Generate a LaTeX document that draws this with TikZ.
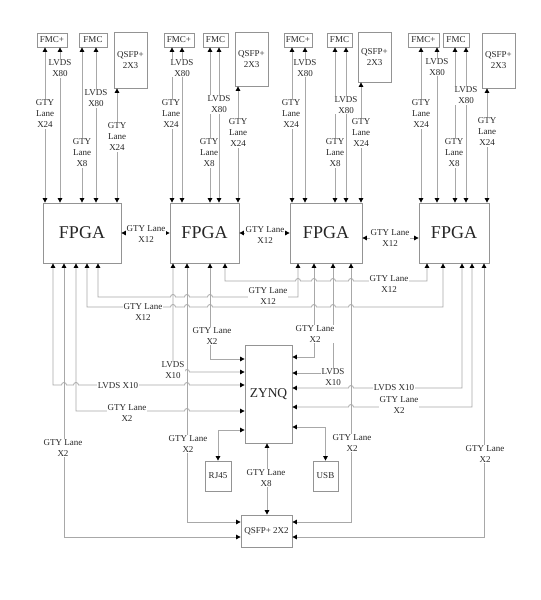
\documentclass[tikz,border=0pt]{standalone}
\usepackage{fontspec}
\setmainfont{Liberation Serif}
\usetikzlibrary{arrows.meta}
\definecolor{linec}{gray}{0.66}
\definecolor{boxc}{gray}{0.58}
\definecolor{txt}{gray}{0.15}
\newcommand\labfont{\fontsize{9}{11}\selectfont}
\tikzset{
  box/.style={draw=boxc, line width=0.8pt, inner sep=0pt, font=\labfont, text=txt, align=center},
  bigbox/.style={box, font=\fontsize{18}{20}\selectfont},
  zbox/.style={box, font=\fontsize{13.5}{15}\selectfont},
  lbl/.style={fill=white, inner sep=0.8pt, font=\labfont, text=txt, align=center},
  wire/.style={draw=linec, line width=0.8pt,
    {Triangle[length=4.5pt,width=4.5pt,color=black]}-{Triangle[length=4.5pt,width=4.5pt,color=black]}},
}
\begin{document}
\begin{tikzpicture}[x=1pt,y=1pt]
\fill[white] (0,0) rectangle (541,-600);
\useasboundingbox (0,0) rectangle (541,-600);

% ---------- top boxes ----------
\node[box, minimum width=30pt, minimum height=14pt] (fp1) at (52,-40) {FMC+};
\node[box, minimum width=28pt, minimum height=14pt] (fm1) at (93,-40) {FMC};
\node[box, minimum width=33pt, minimum height=56pt] (q1) at (130.5,-60) {QSFP+\\2X3};
\node[box, minimum width=30pt, minimum height=14pt] (fp2) at (179,-40) {FMC+};
\node[box, minimum width=25pt, minimum height=14pt] (fm2) at (215.5,-40) {FMC};
\node[box, minimum width=33pt, minimum height=54pt] (q2) at (251.5,-59) {QSFP+\\2X3};
\node[box, minimum width=28pt, minimum height=14pt] (fp3) at (298,-40) {FMC+};
\node[box, minimum width=25pt, minimum height=14pt] (fm3) at (339.5,-40) {FMC};
\node[box, minimum width=33pt, minimum height=50pt] (q3) at (374.5,-57) {QSFP+\\2X3};
\node[box, minimum width=31pt, minimum height=14pt] (fp4) at (423.5,-40) {FMC+};
\node[box, minimum width=26pt, minimum height=14pt] (fm4) at (456,-40) {FMC};
\node[box, minimum width=33pt, minimum height=55pt] (q4) at (498.5,-60.5) {QSFP+\\2X3};

% ---------- FPGAs ----------
\node[bigbox, minimum width=78pt, minimum height=60pt] (fpga1) at (82,-233) {FPGA};
\node[bigbox, minimum width=69pt, minimum height=60pt] (fpga2) at (204.5,-233) {FPGA};
\node[bigbox, minimum width=72pt, minimum height=60pt] (fpga3) at (326,-233) {FPGA};
\node[bigbox, minimum width=70pt, minimum height=60pt] (fpga4) at (454,-233) {FPGA};

% ---------- lower boxes ----------
\node[zbox, minimum width=47pt, minimum height=98pt] (zynq) at (268.5,-394) {ZYNQ};
\node[box, minimum width=26pt, minimum height=30pt] (rj45) at (218,-476) {RJ45};
\node[box, minimum width=25pt, minimum height=30pt] (usb) at (325.5,-476) {USB};
\node[box, minimum width=51pt, minimum height=32pt] (qsfp) at (266.5,-531) {QSFP+ 2X2};

% ---------- top vertical links ----------
\draw[wire] (fp1.south -| 45,0) -- (fpga1.north -| 45,0);
\draw[wire] (fp1.south -| 60,0) -- (fpga1.north -| 60,0);
\draw[wire] (fm1.south -| 82,0) -- (fpga1.north -| 82,0);
\draw[wire] (fm1.south -| 96,0) -- (fpga1.north -| 96,0);
\draw[wire] (q1.south -| 117,0) -- (fpga1.north -| 117,0);

\draw[wire] (fp2.south -| 172,0) -- (fpga2.north -| 172,0);
\draw[wire] (fp2.south -| 182,0) -- (fpga2.north -| 182,0);
\draw[wire] (fm2.south -| 210,0) -- (fpga2.north -| 210,0);
\draw[wire] (fm2.south -| 219,0) -- (fpga2.north -| 219,0);
\draw[wire] (q2.south -| 238,0) -- (fpga2.north -| 238,0);

\draw[wire] (fp3.south -| 292,0) -- (fpga3.north -| 292,0);
\draw[wire] (fp3.south -| 305,0) -- (fpga3.north -| 305,0);
\draw[wire] (fm3.south -| 335,0) -- (fpga3.north -| 335,0);
\draw[wire] (fm3.south -| 346,0) -- (fpga3.north -| 346,0);
\draw[wire] (q3.south -| 361,0) -- (fpga3.north -| 361,0);

\draw[wire] (fp4.south -| 421,0) -- (fpga4.north -| 421,0);
\draw[wire] (fp4.south -| 437,0) -- (fpga4.north -| 437,0);
\draw[wire] (fm4.south -| 455,0) -- (fpga4.north -| 455,0);
\draw[wire] (fm4.south -| 466,0) -- (fpga4.north -| 466,0);
\draw[wire] (q4.south -| 487,0) -- (fpga4.north -| 487,0);

% top labels
\node[lbl] (t1a) at (60,-68.5) {LVDS\\X80};
\node[lbl] (t1b) at (45,-114) {GTY\\Lane\\X24};
\node[lbl] (t1c) at (96,-98.5) {LVDS\\X80};
\node[lbl] (t1d) at (82,-153) {GTY\\Lane\\X8};
\node[lbl] (t1e) at (117,-137) {GTY\\Lane\\X24};

\node[lbl] (t2a) at (182,-68) {LVDS\\X80};
\node[lbl] (t2b) at (171,-114) {GTY\\Lane\\X24};
\node[lbl] (t2c) at (219,-104.5) {LVDS\\X80};
\node[lbl] (t2d) at (209,-153) {GTY\\Lane\\X8};
\node[lbl] (t2e) at (238,-133) {GTY\\Lane\\X24};

\node[lbl] (t3a) at (305,-68) {LVDS\\X80};
\node[lbl] (t3b) at (291,-114) {GTY\\Lane\\X24};
\node[lbl] (t3c) at (346,-105) {LVDS\\X80};
\node[lbl] (t3d) at (335,-153) {GTY\\Lane\\X8};
\node[lbl] (t3e) at (361,-133) {GTY\\Lane\\X24};

\node[lbl] (t4a) at (437,-67) {LVDS\\X80};
\node[lbl] (t4b) at (421,-114) {GTY\\Lane\\X24};
\node[lbl] (t4c) at (466,-95.5) {LVDS\\X80};
\node[lbl] (t4d) at (454,-153) {GTY\\Lane\\X8};
\node[lbl] (t4e) at (487,-132) {GTY\\Lane\\X24};

% ---------- FPGA to FPGA ----------
\draw[wire] (fpga1.east |- 0,-233) -- (fpga2.west |- 0,-233);
\draw[wire] (fpga2.east |- 0,-233) -- (fpga3.west |- 0,-233);
\draw[wire] (fpga3.east |- 0,-238) -- (fpga4.west |- 0,-238);
\node[lbl] (h12) at (146,-234) {GTY Lane\\X12};
\node[lbl] (h23) at (265,-235) {GTY Lane\\X12};
\node[lbl] (h34) at (390,-238) {GTY Lane\\X12};

% wire A: FPGA1 - FPGA3
\draw[wire] (fpga1.south -| 98,0) -- (98,-297)
  -- (170.5,-297) arc[start angle=180,end angle=0,radius=2.5pt]
  -- (184.5,-297) arc[start angle=180,end angle=0,radius=2.5pt]
  -- (207.5,-297) arc[start angle=180,end angle=0,radius=2.5pt]
  -- (298,-297) -- (fpga3.south -| 298,0);
% wire B: FPGA2 - FPGA4
\draw[wire] (fpga2.south -| 225,0) -- (225,-281)
  -- (295.5,-281) arc[start angle=180,end angle=0,radius=2.5pt]
  -- (311.5,-281) arc[start angle=180,end angle=0,radius=2.5pt]
  -- (330.5,-281) arc[start angle=180,end angle=0,radius=2.5pt]
  -- (348.5,-281) arc[start angle=180,end angle=0,radius=2.5pt]
  -- (427,-281) -- (fpga4.south -| 427,0);
% wire C: FPGA1 - FPGA4
\draw[wire] (fpga1.south -| 87,0) -- (87,-307)
  -- (170.5,-307) arc[start angle=180,end angle=0,radius=2.5pt]
  -- (184.5,-307) arc[start angle=180,end angle=0,radius=2.5pt]
  -- (207.5,-307) arc[start angle=180,end angle=0,radius=2.5pt]
  -- (311.5,-307) arc[start angle=180,end angle=0,radius=2.5pt]
  -- (330.5,-307) arc[start angle=180,end angle=0,radius=2.5pt]
  -- (348.5,-307) arc[start angle=180,end angle=0,radius=2.5pt]
  -- (443,-307) -- (fpga4.south -| 443,0);
\node[lbl] (wa) at (268,-296.5) {GTY Lane\\X12};
\node[lbl] (wb) at (389,-284) {GTY Lane\\X12};
\node[lbl] (wc) at (143,-312) {GTY Lane\\X12};

% ---------- to ZYNQ, left side ----------
\draw[wire] (fpga2.south -| 210,0) -- (210,-359) -- (zynq.west |- 0,-359);
\draw[wire] (fpga2.south -| 173,0) -- (173,-372)
  -- (184.5,-372) arc[start angle=180,end angle=0,radius=2.5pt]
  -- (zynq.west |- 0,-372);
\draw[wire] (fpga1.south -| 53,0) -- (53,-385)
  -- (61.5,-385) arc[start angle=180,end angle=0,radius=2.5pt]
  -- (73.5,-385) arc[start angle=180,end angle=0,radius=2.5pt]
  -- (184.5,-385) arc[start angle=180,end angle=0,radius=2.5pt]
  -- (zynq.west |- 0,-385);
\draw[wire] (fpga1.south -| 76,0) -- (76,-411)
  -- (184.5,-411) arc[start angle=180,end angle=0,radius=2.5pt]
  -- (zynq.west |- 0,-411);
\draw[wire] (zynq.west |- 0,-430) -| (rj45.north);
\node[lbl] (l1) at (212,-336) {GTY Lane\\X2};
\node[lbl] (l2) at (173,-370) {LVDS\\X10};
\node[lbl] (l3) at (118,-385.5) {LVDS X10};
\node[lbl] (l4) at (127,-413) {GTY Lane\\X2};

% ---------- to ZYNQ, right side ----------
\draw[wire] (fpga3.south -| 314,0) -- (314,-357) -- (zynq.east |- 0,-357);
\draw[wire] (fpga3.south -| 333,0) -- (333,-373) -- (zynq.east |- 0,-373);
\draw[wire] (fpga4.south -| 462,0) -- (462,-388)
  -- (353.5,-388) arc[start angle=0,end angle=180,radius=2.5pt]
  -- (zynq.east |- 0,-388);
\draw[wire] (fpga4.south -| 472,0) -- (472,-407)
  -- (353.5,-407) arc[start angle=0,end angle=180,radius=2.5pt]
  -- (zynq.east |- 0,-407);
\draw[wire] (zynq.east |- 0,-427) -| (usb.north);
\node[lbl] (r1) at (315,-334) {GTY Lane\\X2};
\node[lbl] (r2) at (333,-377) {LVDS\\X10};
\node[lbl] (r3) at (394,-388) {LVDS X10};
\node[lbl] (r4) at (399,-405) {GTY Lane\\X2};

% ---------- to QSFP+ 2X2 ----------
\draw[wire] (fpga1.south -| 64,0) -- (64,-537) -- (qsfp.west |- 0,-537);
\draw[wire] (fpga2.south -| 187,0) -- (187,-522) -- (qsfp.west |- 0,-522);
\draw[wire] (fpga3.south -| 351,0) -- (351,-522) -- (qsfp.east |- 0,-522);
\draw[wire] (fpga4.south -| 484,0) -- (484,-537) -- (qsfp.east |- 0,-537);
\draw[wire] (zynq.south -| 267,0) -- (qsfp.north -| 267,0);
\node[lbl] (b1) at (63,-448) {GTY Lane\\X2};
\node[lbl] (b2) at (188,-444) {GTY Lane\\X2};
\node[lbl] (b3) at (352,-443) {GTY Lane\\X2};
\node[lbl] (b4) at (485,-454) {GTY Lane\\X2};
\node[lbl] (bz) at (266,-478) {GTY Lane\\X8};
\end{tikzpicture}
\end{document}
